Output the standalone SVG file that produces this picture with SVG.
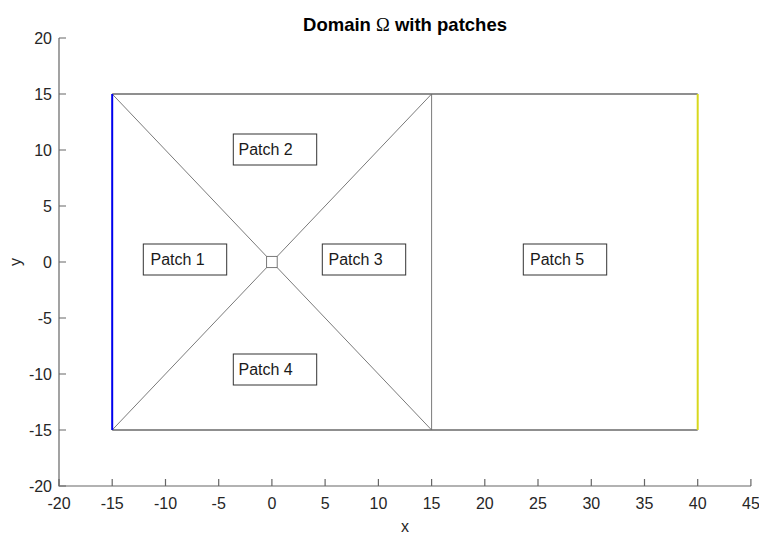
<svg xmlns="http://www.w3.org/2000/svg" width="759" height="534" viewBox="0 0 759 534">
<style>
.ax{stroke:#666;stroke-width:1.2;fill:none}
.tk{font-family:"Liberation Sans",Arial,sans-serif;font-size:16px;fill:#262626}
.edge{stroke:#6b6b6b;stroke-width:1.6;fill:none}
.thin{stroke:#6b6b6b;stroke-width:0.9;fill:none}
.box{fill:#fff;stroke:#333;stroke-width:1}
.lbl{font-family:"Liberation Sans",Arial,sans-serif;font-size:16px;fill:#1a1a1a}
</style>
<rect width="759" height="534" fill="#fff"/>
<g id="axes">
<path class="ax" d="M59,38V486H751"/>
<path class="ax" d="M59,38h7M59,94h7M59,150h7M59,206h7M59,262h7M59,318h7M59,374h7M59,430h7M59,486h7"/>
<path class="ax" d="M59,486v-7M112.2,486v-7M165.5,486v-7M218.7,486v-7M271.9,486v-7M325.1,486v-7M378.4,486v-7M431.6,486v-7M484.8,486v-7M538,486v-7M591.3,486v-7M644.5,486v-7M697.7,486v-7M750.9,486v-7"/>
<g class="tk" text-anchor="end">
<text x="52" y="44">20</text><text x="52" y="100">15</text><text x="52" y="156">10</text><text x="52" y="212">5</text><text x="52" y="268">0</text><text x="52" y="324">-5</text><text x="52" y="380">-10</text><text x="52" y="436">-15</text><text x="52" y="492">-20</text>
</g>
<g class="tk" text-anchor="middle">
<text x="59" y="509">-20</text><text x="112.2" y="509">-15</text><text x="165.5" y="509">-10</text><text x="218.7" y="509">-5</text><text x="271.9" y="509">0</text><text x="325.1" y="509">5</text><text x="378.4" y="509">10</text><text x="431.6" y="509">15</text><text x="484.8" y="509">20</text><text x="538" y="509">25</text><text x="591.3" y="509">30</text><text x="644.5" y="509">35</text><text x="697.7" y="509">40</text><text x="750.9" y="509">45</text>
</g>
<text class="tk" x="405" y="532" text-anchor="middle">x</text>
<text class="tk" x="21" y="262" text-anchor="middle" transform="rotate(-90 21 262)">y</text>
<text x="405" y="31" text-anchor="middle" font-family="'Liberation Sans',Arial,sans-serif" font-size="18.5" font-weight="bold" fill="#000">Domain <tspan font-family="'Liberation Serif','Times New Roman',serif" font-weight="normal">Ω</tspan> with patches</text>
</g>
<g id="connectors">
<path class="edge" d="M112.2,94H697.7M112.2,430H697.7"/>
<path class="thin" d="M431.6,94V430"/>
<path class="thin" d="M266.6,256.4L112.2,94M277.2,256.4L431.6,94M277.2,267.6L431.6,430M266.6,267.6L112.2,430"/>
<rect class="thin" x="266.6" y="256.4" width="10.6" height="11.2"/>
<path d="M112.2,94V430" stroke="#0000ee" stroke-width="2" fill="none"/>
<path d="M697.7,94V430" stroke="#d8d81e" stroke-width="2" fill="none"/>
</g>
<g id="patch1"><rect class="box" x="143.3" y="244" width="83.4" height="31"/><text class="lbl" x="150.5" y="265">Patch 1</text></g>
<g id="patch2"><rect class="box" x="233.3" y="134" width="83.4" height="31"/><text class="lbl" x="238.5" y="155">Patch 2</text></g>
<g id="patch3"><rect class="box" x="322.3" y="244" width="83.4" height="31"/><text class="lbl" x="328.5" y="265">Patch 3</text></g>
<g id="patch4"><rect class="box" x="233.3" y="354" width="83.4" height="31"/><text class="lbl" x="238.5" y="375">Patch 4</text></g>
<g id="patch5"><rect class="box" x="523.3" y="244" width="83.4" height="31"/><text class="lbl" x="530" y="265">Patch 5</text></g>
</svg>
